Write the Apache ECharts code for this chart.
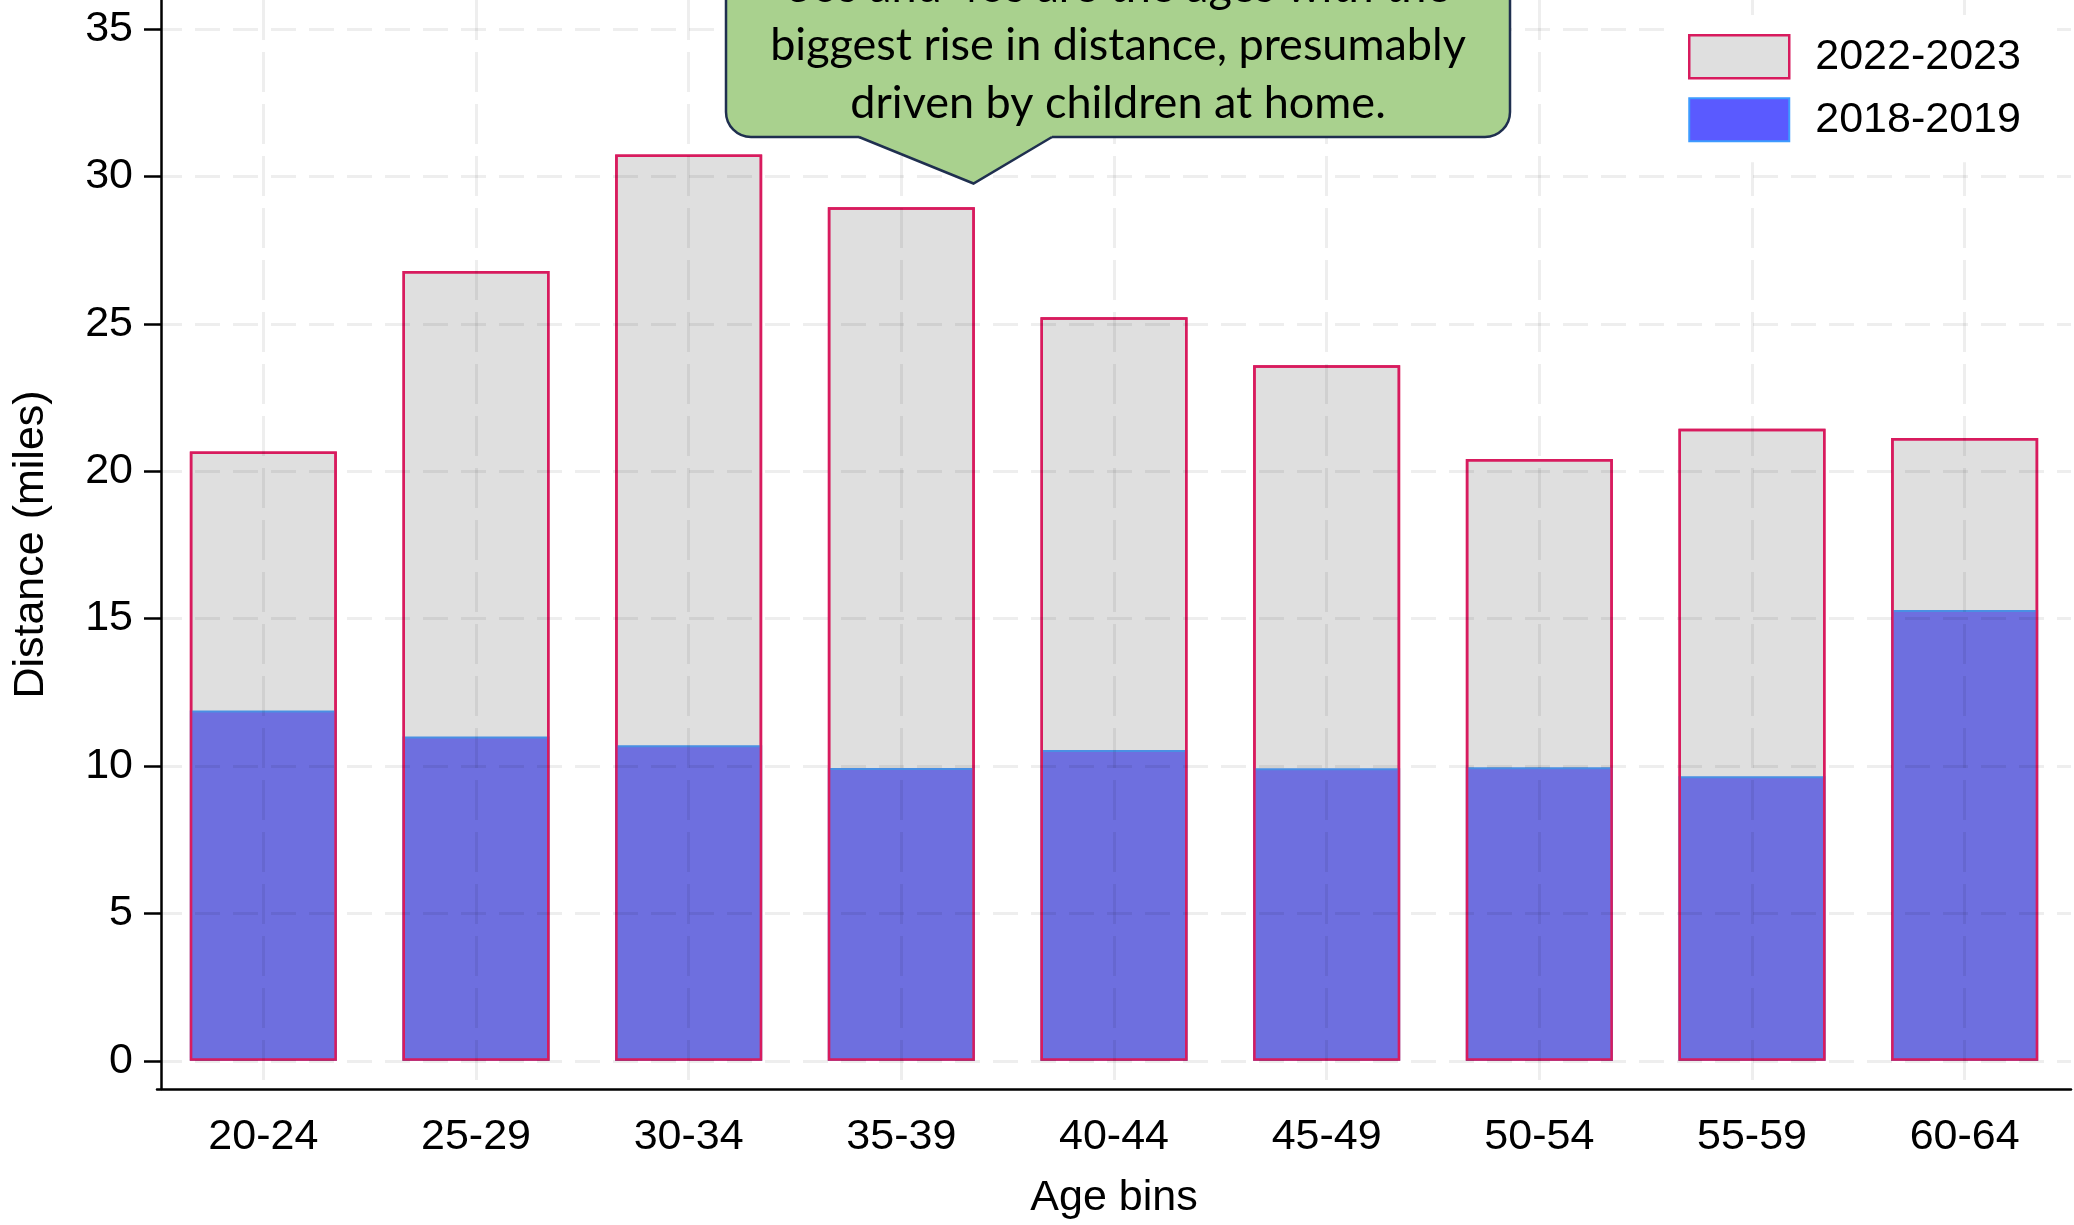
<!DOCTYPE html>
<html>
<head>
<meta charset="utf-8">
<script src="https://cdn.jsdelivr.net/npm/echarts@6/dist/echarts.min.js"></script>
<style>
  html, body { margin: 0; padding: 0; background: #ffffff; }
  #chart { width: 2074px; height: 1225px; }
</style>
</head>
<body>
<div id="chart"></div>
<script>
const categories = ['20-24', '25-29', '30-34', '35-39', '40-44', '45-49', '50-54', '55-59', '60-64'];
const dist2022_2023 = [20.67, 26.79, 30.74, 28.95, 25.22, 23.59, 20.41, 21.44, 21.13];
const dist2018_2019 = [11.88, 11.0, 10.7, 9.93, 10.54, 9.92, 9.96, 9.65, 15.29];
const yTicks = [0, 5, 10, 15, 20, 25, 30, 35];
const calloutText = '30s and 40s are the ages with the\nbiggest rise in distance, presumably\ndriven by children at home.';

const FONT = 'Liberation Sans';
const GRID_COLOR = 'rgba(0,0,0,0.068)';
const CRIMSON = '#d81b5e';

const chart = echarts.init(document.getElementById('chart'), null, { renderer: 'canvas' });

const option = {
  backgroundColor: '#ffffff',
  animation: false,
  grid: { left: 157, right: 3, top: 0, bottom: 136, containLabel: false },
  legend: {
    orient: 'vertical',
    left: 1672,
    top: 15,
    padding: [19, 33, 20, 16],
    backgroundColor: '#ffffff',
    itemWidth: 100,
    itemHeight: 43,
    itemGap: 17.7,
    icon: 'rect',
    z: 10,
    textStyle: { fontFamily: FONT, fontSize: 43, color: '#000', padding: [0, 0, 0, 21] },
    data: [
      { name: '2022-2023', itemStyle: { color: '#dfdfdf', borderColor: CRIMSON, borderWidth: 2.5 } },
      { name: '2018-2019', itemStyle: { color: '#5a5aff', borderColor: '#3d9bff', borderWidth: 2 } }
    ]
  },
  xAxis: {
    type: 'category',
    data: categories,
    boundaryGap: true,
    z: 5,
    axisLine: { onZero: false, lineStyle: { color: '#000', width: 2.5 } },
    axisTick: { alignWithLabel: true, length: 17, lineStyle: { color: '#000', width: 2.5 } },
    axisLabel: { fontFamily: FONT, fontSize: 43, color: '#000', margin: 27 },
    splitLine: { show: true, alignWithLabel: true, lineStyle: { color: GRID_COLOR, width: 3, type: [40, 12] } },
    name: 'Age bins',
    nameLocation: 'middle',
    nameGap: 88,
    nameTextStyle: { fontFamily: FONT, fontSize: 43, color: '#000' }
  },
  yAxis: {
    type: 'value',
    min: -0.957,
    max: 35.984,
    position: 'left',
    offset: -4,
    z: 5,
    axisLine: { show: true, onZero: false, lineStyle: { color: '#000', width: 2.5 } },
    axisTick: { show: true, customValues: yTicks, length: 17, lineStyle: { color: '#000', width: 2.5 } },
    axisLabel: { customValues: yTicks, fontFamily: FONT, fontSize: 43, color: '#000', margin: 28 },
    splitLine: { show: true, lineStyle: { color: GRID_COLOR, width: 3, type: [25, 13] } },
    name: 'Distance (miles)',
    nameLocation: 'middle',
    nameGap: 108,
    nameRotate: 90,
    nameTextStyle: { fontFamily: FONT, fontSize: 43, color: '#000' }
  },
  series: [
    {
      name: '2022-2023',
      type: 'bar',
      data: dist2022_2023,
      barWidth: 147,
      barGap: '-100%',
      z: 2,
      itemStyle: { color: '#dfdfdf', borderColor: CRIMSON, borderWidth: 2.5 }
    },
    {
      name: '2018-2019',
      type: 'bar',
      data: dist2018_2019,
      barWidth: 147,
      barGap: '-100%',
      z: 3,
      itemStyle: { color: '#6e6fdf', borderColor: '#4a8fe3', borderWidth: 2 }
    },
    {
      name: 'outline',
      type: 'bar',
      data: dist2022_2023,
      barWidth: 147,
      barGap: '-100%',
      z: 4,
      silent: true,
      itemStyle: { color: 'rgba(0,0,0,0)', borderColor: CRIMSON, borderWidth: 2.5 }
    }
  ],
  graphic: [
    {
      type: 'rect',
      z: 20,
      shape: { x: 726, y: -40, width: 784, height: 177, r: 25 },
      style: { fill: '#a9d18e', stroke: '#1f2f4f', lineWidth: 2.5 }
    },
    {
      type: 'polygon',
      z: 21,
      shape: { points: [[859, 131], [859, 137], [973.5, 183.5], [1052, 137], [1052, 131]] },
      style: { fill: '#a9d18e' }
    },
    {
      type: 'polyline',
      z: 22,
      shape: { points: [[859, 137], [973.5, 183.5], [1052, 137]] },
      style: { stroke: '#1f2f4f', lineWidth: 2.5, fill: null }
    },
    {
      type: 'text',
      z: 23,
      x: 1118,
      y: 132,
      style: {
        text: calloutText,
        font: '45px Lato',
        fill: '#000',
        align: 'center',
        verticalAlign: 'bottom',
        lineHeight: 58
      }
    }
  ]
};

chart.setOption(option);
</script>
</body>
</html>
